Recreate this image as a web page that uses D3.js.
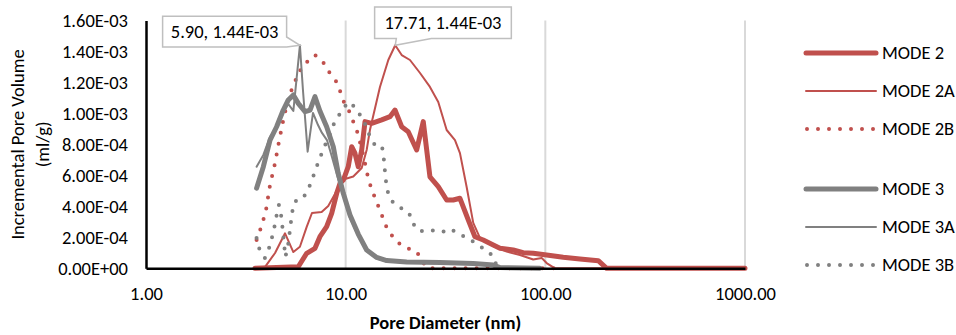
<!DOCTYPE html>
<html><head><meta charset="utf-8">
<script src="https://cdn.jsdelivr.net/npm/d3@7"></script>
<style>
html,body{margin:0;padding:0;background:#fff;}
svg{display:block;}
text{font-family: Carlito, Calibri, "Liberation Sans", Arial, sans-serif; fill:#000;}
</style>
</head><body>
<svg id="chart" width="956" height="335"></svg>
<script>
// ---------- data ----------
const xTicks = [1, 10, 100, 1000];
const yTicks = [0, 2e-4, 4e-4, 6e-4, 8e-4, 1.0e-3, 1.2e-3, 1.4e-3, 1.6e-3];
const xTitle = "Pore Diameter (nm)";
const yTitleLines = ["Incremental Pore Volume", "(ml/g)"];

// MODE 2
const mode2D = [3.51,5.79,6.38,7.02,7.43,8.03,8.51,9.02,9.37,9.73,10.30,10.72,11.13,11.56,12.03,12.50,13.50,15.15,16.67,17.66,19.08,20.58,22.68,24.47,26.43,29.09,32.05,34.58,37.36,41.11,44.41,48.87,54.85,59.26,69.07,77.51,86.98,101.5,122.9,149.0,184.1,202.8,1000];
const mode2V = [0,0.10e-4,0.97e-4,1.29e-4,2.04e-4,2.69e-4,3.55e-4,4.84e-4,5.49e-4,5.70e-4,6.56e-4,7.85e-4,7.43e-4,6.56e-4,7.64e-4,9.47e-4,9.36e-4,9.58e-4,9.79e-4,10.22e-4,9.14e-4,8.82e-4,7.64e-4,9.47e-4,5.91e-4,5.27e-4,4.41e-4,4.41e-4,4.52e-4,3.12e-4,2.04e-4,1.83e-4,1.50e-4,1.29e-4,1.18e-4,1.01e-4,0.97e-4,0.86e-4,0.71e-4,0.60e-4,0.49e-4,0,0];

// MODE 2A
const mode2AD = [3.51,3.94,4.43,4.97,5.47,5.90,6.38,6.78,7.58,8.18,8.84,9.37,9.92,10.92,12.03,12.74,13.23,14.85,16.35,17.71,19.08,20.99,23.57,26.43,29.09,32.05,35.27,37.36,40.36,43.55,47.04,54.85,64.00,74.63,86.98,95.83,101.5,111.7,1000];
const mode2AV = [0,0.08e-4,0.99e-4,2.26e-4,1.05e-4,1.39e-4,2.67e-4,3.57e-4,3.64e-4,4.02e-4,4.80e-4,5.44e-4,5.77e-4,5.93e-4,6.48e-4,7.64e-4,8.93e-4,11.71e-4,13.45e-4,14.4e-4,13.77e-4,13.45e-4,12.61e-4,11.71e-4,10.74e-4,8.93e-4,8.28e-4,7.44e-4,5.25e-4,2.93e-4,1.96e-4,1.44e-4,1.08e-4,0.86e-4,0.57e-4,0.67e-4,0.34e-4,0,0];

// MODE 2B
const mode2BD = [3.58,3.81,3.99,4.18,4.43,4.63,4.85,5.08,5.38,5.70,6.04,6.48,7.02,7.70,8.25,8.94,9.37,9.80,10.39,10.88,11.39,11.79,12.35,12.79,13.23,13.78,14.43,15.11,15.73,16.67,18.07,20.28,22.75,24.10,25.83,111.7];
const mode2BV = [1.83e-4,2.80e-4,3.76e-4,5.38e-4,6.80e-4,8.16e-4,9.45e-4,10.61e-4,11.58e-4,12.35e-4,13.00e-4,13.39e-4,13.77e-4,13.32e-4,12.68e-4,12.09e-4,11.45e-4,10.74e-4,10.16e-4,9.51e-4,8.87e-4,8.16e-4,7.12e-4,6.15e-4,5.44e-4,4.80e-4,4.15e-4,3.51e-4,2.86e-4,2.28e-4,1.70e-4,1.31e-4,1.05e-4,0.47e-4,0,0];

// MODE 3
const mode3D = [3.58,3.87,4.18,4.51,4.87,5.16,5.47,5.79,6.26,6.63,7.02,7.43,8.03,8.67,9.18,9.73,10.51,11.56,12.74,14.30,16.05,20.21,29.67,43.55,54.85,59.26,93.97];
const mode3V = [5.17e-4,6.56e-4,8.28e-4,9.14e-4,10.22e-4,10.87e-4,11.19e-4,10.65e-4,10.11e-4,10.22e-4,11.08e-4,10.16e-4,9.14e-4,7.85e-4,6.13e-4,4.84e-4,3.44e-4,2.21e-4,1.18e-4,0.70e-4,0.50e-4,0.41e-4,0.37e-4,0.31e-4,0.21e-4,0.05e-4,0];

// MODE 3A
const mode3AD = [3.58,3.87,4.18,4.51,4.87,5.16,5.47,5.90,6.11,6.45,6.86,7.27,7.61,8.06,8.54,9.05,9.73,10.51,11.56,12.74,14.30,16.05,20.21,29.67,43.55,54.85,59.26,93.97];
const mode3AV = [6.56e-4,7.32e-4,8.48e-4,9.06e-4,10.09e-4,10.61e-4,10.16e-4,14.4e-4,11.51e-4,7.53e-4,10.03e-4,9.25e-4,8.74e-4,8.28e-4,7.19e-4,6.02e-4,4.67e-4,3.25e-4,2.09e-4,1.12e-4,0.63e-4,0.44e-4,0.37e-4,0.34e-4,0.28e-4,0.18e-4,0.05e-4,0];

// MODE 3B
const mode3BD = [3.58,3.64,3.81,3.94,4.08,4.27,4.43,4.53,4.63,4.74,4.83,4.91,4.99,5.14,5.26,5.38,5.51,5.77,6.11,6.48,6.86,7.18,7.70,8.35,8.84,9.58,10.27,11.13,12.07,12.79,13.23,14.02,15.20,15.55,15.82,16.10,16.67,18.07,20.28,21.48,22.23,23.84,26.74,30.36,33.67,36.51,40.04,47.04,54.85,57.24];
const mode3BV = [1.96e-4,1.44e-4,0.92e-4,0.67e-4,1.05e-4,1.96e-4,2.86e-4,3.57e-4,4.09e-4,3.51e-4,2.60e-4,1.63e-4,0.73e-4,1.44e-4,2.47e-4,3.51e-4,4.22e-4,4.47e-4,4.54e-4,5.06e-4,5.90e-4,6.61e-4,7.64e-4,8.67e-4,9.51e-4,10.16e-4,10.74e-4,10.42e-4,9.71e-4,9.06e-4,8.48e-4,7.96e-4,7.90e-4,6.99e-4,5.90e-4,5.12e-4,4.47e-4,4.02e-4,3.70e-4,3.25e-4,2.60e-4,2.41e-4,2.47e-4,2.34e-4,2.54e-4,2.21e-4,2.02e-4,1.44e-4,0.79e-4,0.08e-4];

const seriesNames = ["MODE 2","MODE 2A","MODE 2B","MODE 3","MODE 3A","MODE 3B"];
const seriesD = [mode2D, mode2AD, mode2BD, mode3D, mode3AD, mode3BD];
const seriesV = [mode2V, mode2AV, mode2BV, mode3V, mode3AV, mode3BV];
const calloutSeries = ["MODE 3A", "MODE 2A"];

// ---------- styles ----------
const RED = "#C0504D", GRAY = "#808080";
const styles = {
  "MODE 2":  {color: RED,  width: 5,   dash: null},
  "MODE 2A": {color: RED,  width: 2,   dash: null},
  "MODE 2B": {color: RED,  width: 4,   dash: "0,11"},
  "MODE 3":  {color: GRAY, width: 5,   dash: null},
  "MODE 3A": {color: GRAY, width: 2,   dash: null},
  "MODE 3B": {color: GRAY, width: 4,   dash: "0,11"}
};
const FS = 18.5;

// ---------- chart ----------
const svg = d3.select("#chart");
const x = d3.scaleLog().domain([1, 1000]).range([146, 745]);
const y = d3.scaleLinear().domain([0, 1.6e-3]).range([268.3, 20.5]);

function fmtE(v) {
  if (v === 0) return "0.00E+00";
  let e = Math.floor(Math.log10(v) + 1e-9);
  let m = v / Math.pow(10, e);
  if (m >= 9.995) { m /= 10; e += 1; }
  return m.toFixed(2) + "E" + (e < 0 ? "-" : "+") + String(Math.abs(e)).padStart(2, "0");
}

// gridlines
svg.append("g").selectAll("line").data(xTicks.slice(1)).join("line")
  .attr("x1", d => x(d)).attr("x2", d => x(d))
  .attr("y1", y(0)).attr("y2", y(1.6e-3))
  .attr("stroke", "#d9d9d9").attr("stroke-width", 2);

// series
const line = d3.line().x(d => x(d[0])).y(d => y(d[1]));
const gS = svg.append("g");
seriesNames.forEach((name, i) => {
  const pts = seriesD[i].map((d, k) => [d, seriesV[i][k]]);
  const st = styles[name];
  const p = gS.append("path").datum(pts).attr("d", line)
    .attr("fill", "none").attr("stroke", st.color).attr("stroke-width", st.width)
    .attr("stroke-linejoin", "round").attr("stroke-linecap", "round");
  if (st.dash) p.attr("stroke-dasharray", st.dash);
});

// axes
const gx = svg.append("g").attr("transform", `translate(0,${y(0)})`)
  .call(d3.axisBottom(x).tickValues(xTicks).tickFormat(d => d.toFixed(2)).tickSize(0).tickSizeOuter(0).tickPadding(18.5));
const gy = svg.append("g").attr("transform", `translate(${x(1)},0)`)
  .call(d3.axisLeft(y).tickValues(yTicks).tickFormat(fmtE).tickSize(0).tickSizeOuter(0).tickPadding(18));
[gx, gy].forEach(g => {
  g.select(".domain").attr("stroke", "#000").attr("stroke-width", 2.5);
  g.selectAll("text").attr("font-size", FS).attr("font-family", null).attr("fill", "#000");
});

// axis titles
svg.append("text").attr("x", (x(1) + x(1000)) / 2).attr("y", 329)
  .attr("text-anchor", "middle").attr("font-size", FS).attr("font-weight", "bold").text(xTitle);
yTitleLines.forEach((t, i) => {
  svg.append("text")
    .attr("transform", `translate(${18 + i * 25},${(y(0) + y(1.6e-3)) / 2}) rotate(-90)`)
    .attr("text-anchor", "middle").attr("dy", "0.35em").attr("font-size", FS).text(t);
});

// callouts
const calloutLayout = {
  "MODE 3A": {l: -137.3, r: -13.3, t: -29, b: 1.7, kind: "side", k: -8.3},
  "MODE 2A": {l: -20.6, r: 116.1, t: -38.3, b: -6.7, kind: "bottom", k1: 1.1, k2: 36.1}
};
calloutSeries.forEach(name => {
  const i = seriesNames.indexOf(name);
  const vals = seriesV[i];
  const mi = d3.maxIndex(vals);
  const tx = x(seriesD[i][mi]), ty = y(vals[mi]);
  const L = calloutLayout[name];
  const l = tx + L.l, r = tx + L.r, t = ty + L.t, b = ty + L.b;
  let path;
  if (L.kind === "side") {
    path = `M${l},${t}H${r}V${ty + L.k}L${tx},${ty}L${r},${b}H${l}Z`;
  } else {
    path = `M${l},${t}H${r}V${b}H${tx + L.k2}L${tx},${ty}L${tx + L.k1},${b}H${l}Z`;
  }
  svg.append("path").attr("d", path).attr("fill", "#fff").attr("stroke", "#bfbfbf").attr("stroke-width", 1.5);
  svg.append("text").attr("x", (l + r) / 2).attr("y", (t + b) / 2).attr("dy", "0.35em")
    .attr("text-anchor", "middle").attr("font-size", FS)
    .text(seriesD[i][mi].toFixed(2) + ", " + fmtE(vals[mi]));
});

// legend
const gL = svg.append("g");
seriesNames.forEach((name, i) => {
  const ly = 53 + i * 38 + (i >= 3 ? 22 : 0);
  const st = styles[name];
  const ln = gL.append("line").attr("x1", st.dash ? 807 : 806).attr("x2", st.dash ? 874 : 876)
    .attr("y1", ly).attr("y2", ly)
    .attr("stroke", st.color).attr("stroke-width", st.width).attr("stroke-linecap", "round");
  if (st.dash) ln.attr("stroke-dasharray", st.dash);
  gL.append("text").attr("x", 882).attr("y", ly).attr("dy", "0.35em").attr("font-size", FS).text(name);
});
</script>
</body></html>
